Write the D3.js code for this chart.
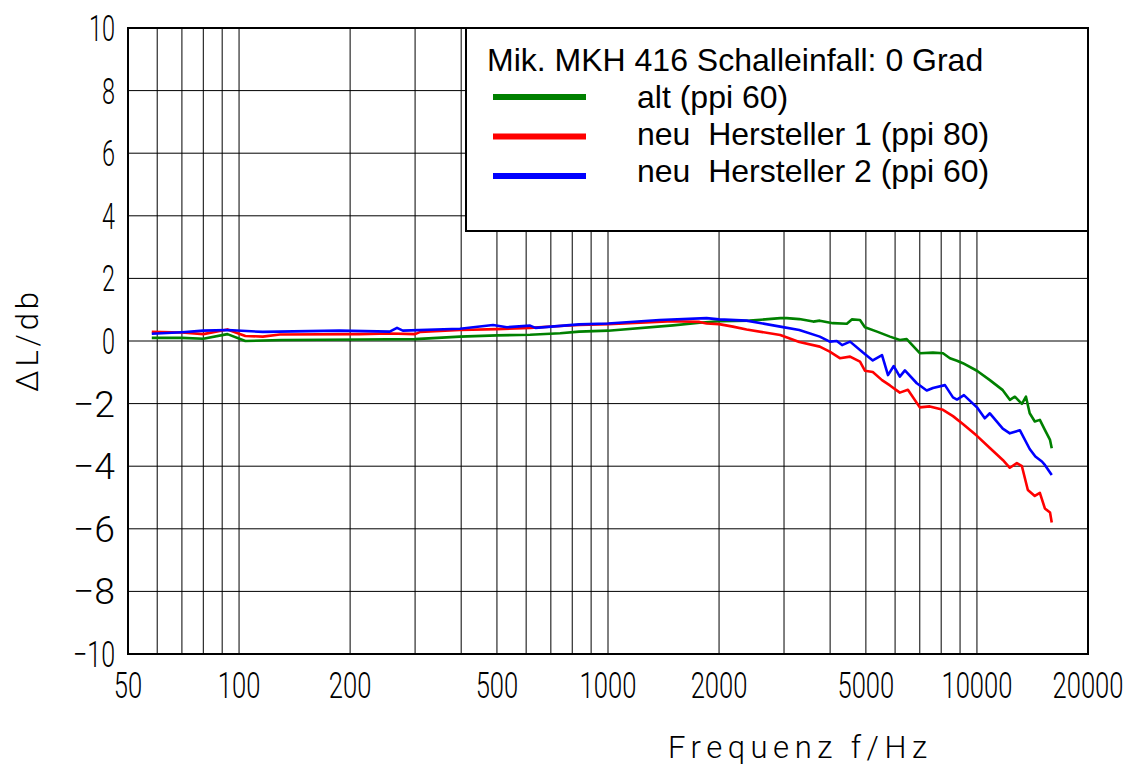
<!DOCTYPE html>
<html>
<head>
<meta charset="utf-8">
<script src="https://cdn.jsdelivr.net/npm/d3@7"></script>
<style>
  body { margin: 0; background: #fff; }
</style>
</head>
<body>
<div id="chart"></div>
<script>
// Frequenzgang - Werte
const altFreq = [58, 70, 80, 93, 104, 130, 212, 300, 397, 500, 615, 742, 835, 1000, 1500, 1800, 2000, 2420, 2930, 3050, 3300, 3600, 3750, 4070, 4440, 4580, 4820, 4970, 5360, 5810, 6180, 6450, 7000, 7600, 8090, 8450, 8830, 9160, 10000, 10840, 11750, 12280, 12670, 13240, 13580, 13900, 14350, 14810, 15280, 15780, 15950]
const altDb = [0.10, 0.10, 0.07, 0.22, 0.00, 0.03, 0.05, 0.06, 0.14, 0.18, 0.20, 0.25, 0.30, 0.33, 0.50, 0.59, 0.63, 0.65, 0.73, 0.73, 0.70, 0.62, 0.65, 0.57, 0.55, 0.69, 0.67, 0.44, 0.30, 0.14, 0.03, 0.06, -0.39, -0.37, -0.39, -0.55, -0.63, -0.71, -0.95, -1.25, -1.57, -1.88, -1.78, -2.01, -1.78, -2.31, -2.57, -2.52, -2.84, -3.16, -3.43]

const h1Freq = [58, 70, 80, 93, 104, 116, 129, 212, 256, 300, 310, 397, 500, 615, 742, 835, 1000, 1500, 1770, 1850, 2000, 2180, 2375, 2930, 3300, 3750, 3990, 4250, 4530, 4820, 4970, 5220, 5530, 5810, 6180, 6500, 7000, 7450, 8090, 8610, 9160, 10000, 10840, 11750, 12280, 12830, 13240, 13740, 14350, 14810, 15280, 15780, 15950]
const h1Db = [0.29, 0.27, 0.22, 0.37, 0.16, 0.14, 0.21, 0.22, 0.24, 0.22, 0.29, 0.35, 0.38, 0.42, 0.48, 0.51, 0.54, 0.63, 0.61, 0.56, 0.54, 0.46, 0.37, 0.19, -0.03, -0.18, -0.34, -0.55, -0.50, -0.66, -0.95, -0.99, -1.25, -1.42, -1.65, -1.56, -2.12, -2.09, -2.20, -2.40, -2.65, -3.03, -3.42, -3.80, -4.05, -3.90, -4.00, -4.76, -4.95, -4.85, -5.35, -5.48, -5.80]

const h2Freq = [58, 70, 80, 93, 116, 187, 256, 268, 278, 397, 488, 532, 615, 636, 835, 1000, 1380, 1850, 2000, 2375, 2930, 3300, 3750, 3990, 4170, 4310, 4530, 4910, 5220, 5530, 5740, 5950, 6180, 6380, 6870, 7310, 7600, 8190, 8610, 8830, 9220, 10000, 10500, 10840, 11750, 12280, 13070, 13900, 14400, 15000, 15280, 15950]
const h2Db = [0.23, 0.28, 0.33, 0.35, 0.29, 0.33, 0.30, 0.42, 0.33, 0.39, 0.51, 0.44, 0.49, 0.42, 0.53, 0.56, 0.67, 0.73, 0.69, 0.65, 0.46, 0.35, 0.14, -0.02, 0.00, -0.13, -0.02, -0.37, -0.62, -0.45, -1.09, -0.80, -1.14, -0.94, -1.35, -1.58, -1.50, -1.41, -1.80, -1.87, -1.73, -2.12, -2.47, -2.31, -2.80, -2.95, -2.85, -3.45, -3.69, -3.85, -3.96, -4.28]

const xTicks = [50, 100, 200, 500, 1000, 2000, 5000, 10000, 20000]
const yTicks = [-10, -8, -6, -4, -2, 0, 2, 4, 6, 8, 10]

const legendTitle = "Mik. MKH 416 Schalleinfall: 0 Grad"
const seriesNames = ["alt (ppi 60)", "neu\u00a0 Hersteller 1 (ppi 80)", "neu\u00a0 Hersteller 2 (ppi 60)"]
const seriesColors = ["#008000", "#ff0000", "#0000ff"]

const W = 1133, H = 766
const mLeft = 128, mRight = 1088, mTop = 28, mBottom = 654

const x = d3.scaleLog().domain([50, 20000]).range([mLeft, mRight])
const y = d3.scaleLinear().domain([-10, 10]).range([mBottom, mTop])

const svg = d3.select("#chart").append("svg")
  .attr("width", W)
  .attr("height", H)

// Gitter: 1-2-...-9 je Dekade
let gridX = []
for (let dec = 10; dec <= 10000; dec *= 10) {
  for (let m = 1; m <= 9; m++) {
    let f = dec * m
    if (f > 50 && f < 20000) gridX.push(f)
  }
}

svg.append("g").selectAll("line")
  .data(gridX)
  .enter()
  .append("line")
  .attr("x1", d => x(d)).attr("x2", d => x(d))
  .attr("y1", mTop).attr("y2", mBottom)
  .attr("stroke", "#000")
  .attr("stroke-width", 1)

svg.append("g").selectAll("line")
  .data(yTicks.slice(1, -1))
  .enter()
  .append("line")
  .attr("x1", mLeft).attr("x2", mRight)
  .attr("y1", d => y(d)).attr("y2", d => y(d))
  .attr("stroke", "#000")
  .attr("stroke-width", 1)

// Kurven
const line = d3.line()
  .x(d => x(d[0]))
  .y(d => y(d[1]))

const series = [
  d3.zip(altFreq, altDb),
  d3.zip(h1Freq, h1Db),
  d3.zip(h2Freq, h2Db)
]

series.forEach((s, i) => {
  svg.append("path")
    .datum(s)
    .attr("d", line)
    .attr("fill", "none")
    .attr("stroke", seriesColors[i])
    .attr("stroke-width", 2.6)
    .attr("stroke-linejoin", "round")
})

// Rahmen
svg.append("rect")
  .attr("x", mLeft).attr("y", mTop)
  .attr("width", mRight - mLeft).attr("height", mBottom - mTop)
  .attr("fill", "none")
  .attr("stroke", "#000")
  .attr("stroke-width", 2)

// Legende
const lg = svg.append("g")
lg.append("rect")
  .attr("x", 466).attr("y", mTop)
  .attr("width", mRight - 466).attr("height", 231 - mTop)
  .attr("fill", "#fff")
  .attr("stroke", "#000")
  .attr("stroke-width", 2)

lg.append("text")
  .attr("x", 487).attr("y", 71)
  .text(legendTitle)
  .style("font-family", "Liberation Sans, Arial, sans-serif")
  .style("font-size", "32px")

seriesNames.forEach((n, i) => {
  lg.append("line")
    .attr("x1", 493).attr("x2", 586)
    .attr("y1", 97 + i * 39.5).attr("y2", 97 + i * 39.5)
    .attr("stroke", seriesColors[i])
    .attr("stroke-width", 6)
  lg.append("text")
    .attr("x", 637).attr("y", 108 + i * 37)
    .text(n)
    .style("font-family", "Liberation Sans, Arial, sans-serif")
    .style("font-size", "32px")
})

// Achsbeschriftung
const tickFont = "Roboto, DejaVu Sans, sans-serif"

svg.append("g").selectAll("text")
  .data(yTicks)
  .enter()
  .append("text")
  .attr("x", 115)
  .attr("y", d => y(d) + 13)
  .attr("text-anchor", "end")
  .attr("textLength", d => (d < 0 ? 42 : d >= 10 ? 26 : 13))
  .attr("lengthAdjust", "spacingAndGlyphs")
  .text(d => (d < 0 ? "\u2212" + Math.abs(d) : d))
  .style("font-family", tickFont)
  .style("font-weight", 300)
  .style("font-size", "37px")

svg.append("g").selectAll("text")
  .data(xTicks)
  .enter()
  .append("text")
  .attr("x", d => x(d))
  .attr("y", 698)
  .attr("text-anchor", "middle")
  .attr("textLength", d => String(d).length * 14.2)
  .attr("lengthAdjust", "spacingAndGlyphs")
  .text(d => d)
  .style("font-family", tickFont)
  .style("font-weight", 300)
  .style("font-size", "37px")

svg.append("text")
  .attr("x", 668).attr("y", 758)
  .attr("textLength", 259)
  .attr("lengthAdjust", "spacing")
  .text("Frequenz f/Hz")
  .style("font-family", tickFont)
  .style("font-weight", 300)
  .style("font-size", "31px")

svg.append("text")
  .attr("transform", "translate(38,392) rotate(-90)")
  .attr("textLength", 100)
  .attr("lengthAdjust", "spacing")
  .text("\u0394L/db")
  .style("font-family", tickFont)
  .style("font-weight", 300)
  .style("font-size", "31px")
</script>
</body>
</html>
